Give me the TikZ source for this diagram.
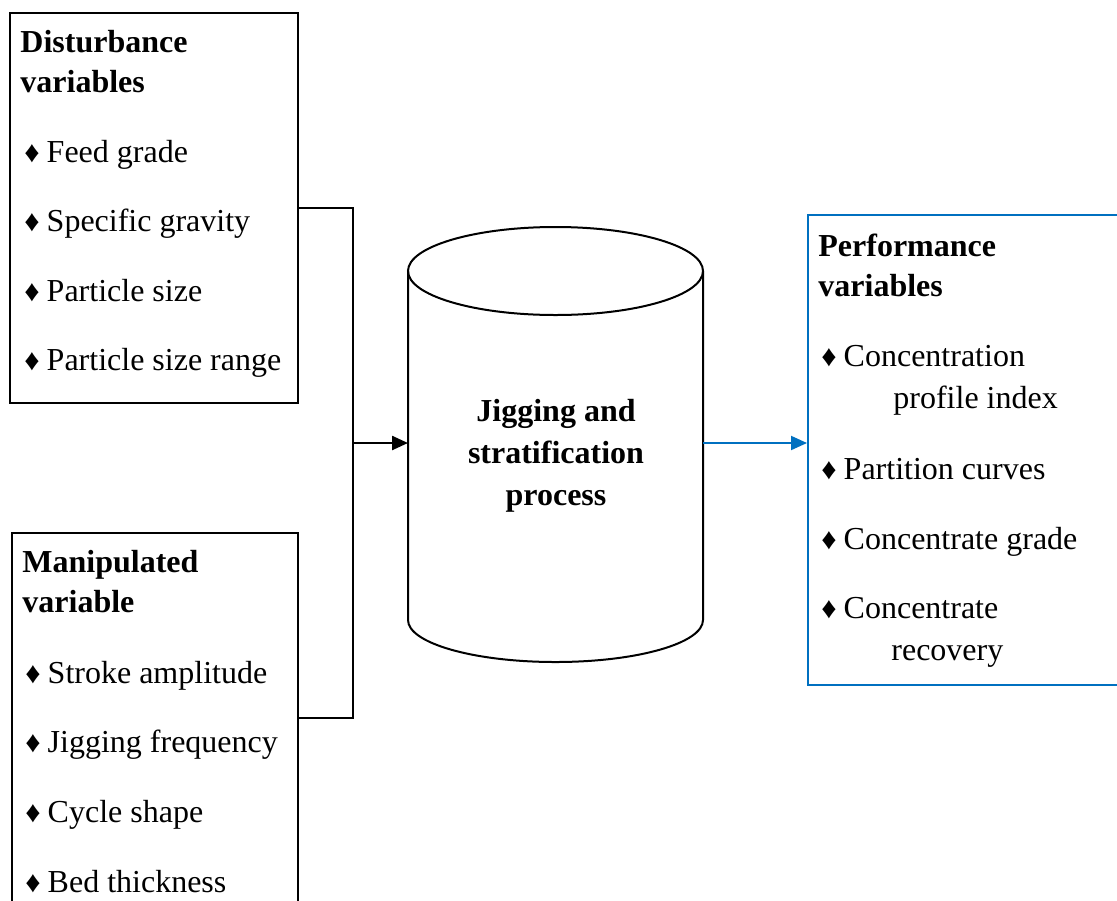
\documentclass[tikz,border=0pt]{standalone}
\usepackage{fontspec}
\setmainfont{Liberation Serif}
\usetikzlibrary{arrows.meta,calc,positioning,fit}

\definecolor{outblue}{RGB}{0,112,192}
\newcommand{\dmd}{{\fontsize{15pt}{15pt}\selectfont ♦}\hspace{3.5pt}}

\tikzset{
  varbox/.style={draw, line width=0.8pt, inner sep=0pt},
  txt/.style={anchor=base west, inner sep=0pt, font=\fontsize{16pt}{18pt}\selectfont},
  hd/.style={txt, font=\fontsize{16pt}{18pt}\selectfont\bfseries},
  ctr/.style={anchor=base, inner sep=0pt, font=\fontsize{16pt}{18pt}\selectfont\bfseries},
}

\begin{document}
\begin{tikzpicture}[x=0.5pt,y=-0.5pt]
  \useasboundingbox (0,0) rectangle (1117,900);

  % input boxes
  \node[varbox, fit={(10,13) (298,403)}] (dist) {};
  \node[varbox, fit={(12,533) (298,903)}] (manip) {};
  \node[hd] (dist-h1) at (20,52) {Disturbance};
  \node[hd] (dist-h2) at (20,92) {variables};
  \node[txt] (dist-1) at (24,162) {\dmd Feed grade};
  \node[txt] (dist-2) at (24,231) {\dmd Specific gravity};
  \node[txt] (dist-3) at (24,301) {\dmd Particle size};
  \node[txt] (dist-4) at (24,370) {\dmd Particle size range};
  \node[hd] (manip-h1) at (22,572) {Manipulated};
  \node[hd] (manip-h2) at (22,612) {variable};
  \node[txt] (manip-1) at (25,683) {\dmd Stroke amplitude};
  \node[txt] (manip-2) at (25,752) {\dmd Jigging frequency};
  \node[txt] (manip-3) at (25,822) {\dmd Cycle shape};
  \node[txt] (manip-4) at (25,892) {\dmd Bed thickness};

  % the jig as a cylinder
  \draw[line width=1pt] (408,271) -- (408,620) arc[start angle=180, end angle=0, x radius=147.5, y radius=42] -- (703,271);
  \draw[line width=1pt] (555.5,271) ellipse[x radius=147.5, y radius=44];
  \coordinate (cyl-l) at (408,443);
  \coordinate (cyl-r) at (703,443);
  \node[ctr] (proc-1) at (556,421) {Jigging and};
  \node[ctr] (proc-2) at (556,463) {stratification};
  \node[ctr] (proc-3) at (556,505) {process};

  % output box
  \node[varbox, draw=outblue, line width=1pt, fit={(808,215) (1118,685)}] (perf) {};
  \node[hd] (perf-h1) at (818,256) {Performance};
  \node[hd] (perf-h2) at (818,296) {variables};
  \node[txt] (perf-1) at (821,366) {\dmd Concentration};
  \node[txt] (perf-1b) at (893,408) {profile index};
  \node[txt] (perf-2) at (821,479) {\dmd Partition curves};
  \node[txt] (perf-3) at (821,549) {\dmd Concentrate grade};
  \node[txt] (perf-4) at (821,618) {\dmd Concentrate};
  \node[txt] (perf-4b) at (891,660) {recovery};

  % connectors
  \coordinate (join) at (353,443);
  \draw[line width=1.2pt] (dist.east) -| (join) |- (manip.east);
  \draw[line width=1.2pt, -{Triangle[length=8pt,width=7pt]}] (join) -- (cyl-l);
  \draw[line width=1pt, outblue, -{Triangle[length=8pt,width=7pt]}] (cyl-r) -- (cyl-r -| perf.west);
\end{tikzpicture}
\end{document}
